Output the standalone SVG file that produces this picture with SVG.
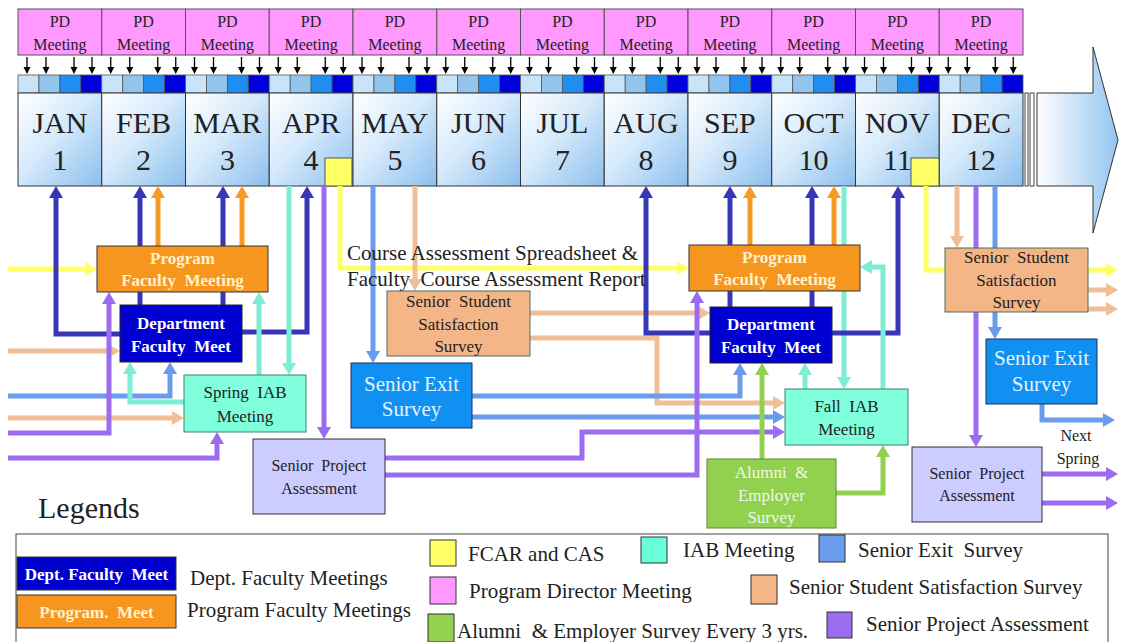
<svg xmlns="http://www.w3.org/2000/svg" width="1121" height="642" viewBox="0 0 1121 642">
<style>
.f{font-family:'Liberation Serif','Times New Roman',serif;white-space:pre}
.m{text-anchor:middle}
.pd{fill:#ff99ff;stroke:#555;stroke-width:1}
.mo{fill:url(#mg);stroke:#333;stroke-width:1}
.c{fill:none;stroke-width:5}
.db{stroke:#3636b6;marker-end:url(#a-db)}
.or{stroke:#f59a23;marker-end:url(#a-or)}
.mi{stroke:#7eeed2;marker-end:url(#a-mi)}
.ye{stroke:#ffff66;marker-end:url(#a-ye)}
.cb{stroke:#6b9bed;marker-end:url(#a-cb)}
.ta{stroke:#f0bf98;marker-end:url(#a-ta)}
.pu{stroke:#9b6cf0;marker-end:url(#a-pu)}
.gr{stroke:#92d050;marker-end:url(#a-gr)}
.pfm{fill:#f7961e;stroke:#333;stroke-width:1}
.dfm{fill:#0000d0;stroke:#222;stroke-width:1}
.iab{fill:#80ffdc;stroke:#3c8070;stroke-width:1}
.sss{fill:#f4b587;stroke:#4a7060;stroke-width:1}
.sex{fill:#1090f0;stroke:#1a3060;stroke-width:1}
.spa{fill:#ccccff;stroke:#333;stroke-width:1}
.alu{fill:#92d050;stroke:#5a8a3a;stroke-width:1}
.sw{stroke:#333;stroke-width:1}
.bw{font-weight:bold;font-size:17px}
.lg{font-size:21px;fill:#222}
</style>
<defs>
<linearGradient id="mg" x1="0" y1="0" x2="1" y2="1">
<stop offset="0" stop-color="#ffffff"/><stop offset="0.45" stop-color="#d6eafb"/><stop offset="1" stop-color="#8cbfee"/>
</linearGradient>
<linearGradient id="ag" x1="0" y1="0" x2="1" y2="0">
<stop offset="0" stop-color="#ffffff"/><stop offset="1" stop-color="#94c4f0"/>
</linearGradient>
<marker id="a-db" markerUnits="userSpaceOnUse" markerWidth="12" markerHeight="14" refX="0" refY="7" orient="auto" viewBox="0 0 12 14"><path d="M0,0L12,7L0,14z" fill="#3636b6"/></marker>
<marker id="a-or" markerUnits="userSpaceOnUse" markerWidth="12" markerHeight="14" refX="0" refY="7" orient="auto" viewBox="0 0 12 14"><path d="M0,0L12,7L0,14z" fill="#f59a23"/></marker>
<marker id="a-mi" markerUnits="userSpaceOnUse" markerWidth="12" markerHeight="14" refX="0" refY="7" orient="auto" viewBox="0 0 12 14"><path d="M0,0L12,7L0,14z" fill="#7eeed2"/></marker>
<marker id="a-ye" markerUnits="userSpaceOnUse" markerWidth="12" markerHeight="14" refX="0" refY="7" orient="auto" viewBox="0 0 12 14"><path d="M0,0L12,7L0,14z" fill="#ffff66"/></marker>
<marker id="a-cb" markerUnits="userSpaceOnUse" markerWidth="12" markerHeight="14" refX="0" refY="7" orient="auto" viewBox="0 0 12 14"><path d="M0,0L12,7L0,14z" fill="#6b9bed"/></marker>
<marker id="a-ta" markerUnits="userSpaceOnUse" markerWidth="12" markerHeight="14" refX="0" refY="7" orient="auto" viewBox="0 0 12 14"><path d="M0,0L12,7L0,14z" fill="#f0bf98"/></marker>
<marker id="a-pu" markerUnits="userSpaceOnUse" markerWidth="12" markerHeight="14" refX="0" refY="7" orient="auto" viewBox="0 0 12 14"><path d="M0,0L12,7L0,14z" fill="#9b6cf0"/></marker>
<marker id="a-gr" markerUnits="userSpaceOnUse" markerWidth="12" markerHeight="14" refX="0" refY="7" orient="auto" viewBox="0 0 12 14"><path d="M0,0L12,7L0,14z" fill="#92d050"/></marker>
<g id="pdArr" stroke="#000" stroke-width="1.3" fill="#000">
<path d="M9,57V67M28,57V67M56,57V67M74,57V67"/>
<path stroke="none" d="M5.5,67H12.5L9,74zM24.5,67H31.5L28,74zM52.5,67H59.5L56,74zM70.5,67H77.5L74,74z"/>
</g>
<g id="sq4" stroke="#555" stroke-width="0.8">
<rect x="0" y="75" width="20.94" height="18" fill="#c8e4f9"/>
<rect x="20.94" y="75" width="20.94" height="18" fill="#92c5ee"/>
<rect x="41.88" y="75" width="20.94" height="18" fill="#1f8ef0"/>
<rect x="62.81" y="75" width="20.94" height="18" fill="#0000dc"/>
</g>
</defs>
<rect width="1121" height="642" fill="#fff"/>

<g id="timeline">
<g id="pd-meetings" class="f">
<rect class="pd" x="18" y="9" width="83.75" height="46"/><rect class="pd" x="101.75" y="9" width="83.75" height="46"/><rect class="pd" x="185.5" y="9" width="83.75" height="46"/><rect class="pd" x="269.25" y="9" width="83.75" height="46"/><rect class="pd" x="353" y="9" width="83.75" height="46"/><rect class="pd" x="436.75" y="9" width="83.75" height="46"/><rect class="pd" x="520.5" y="9" width="83.75" height="46"/><rect class="pd" x="604.25" y="9" width="83.75" height="46"/><rect class="pd" x="688" y="9" width="83.75" height="46"/><rect class="pd" x="771.75" y="9" width="83.75" height="46"/><rect class="pd" x="855.5" y="9" width="83.75" height="46"/><rect class="pd" x="939.25" y="9" width="83.75" height="46"/>
<g class="m" font-size="16" fill="#222">
<text x="59.9" y="27">PD</text><text x="59.9" y="50">Meeting</text>
<text x="143.6" y="27">PD</text><text x="143.6" y="50">Meeting</text>
<text x="227.4" y="27">PD</text><text x="227.4" y="50">Meeting</text>
<text x="311.1" y="27">PD</text><text x="311.1" y="50">Meeting</text>
<text x="394.9" y="27">PD</text><text x="394.9" y="50">Meeting</text>
<text x="478.6" y="27">PD</text><text x="478.6" y="50">Meeting</text>
<text x="562.4" y="27">PD</text><text x="562.4" y="50">Meeting</text>
<text x="646.1" y="27">PD</text><text x="646.1" y="50">Meeting</text>
<text x="729.9" y="27">PD</text><text x="729.9" y="50">Meeting</text>
<text x="813.6" y="27">PD</text><text x="813.6" y="50">Meeting</text>
<text x="897.4" y="27">PD</text><text x="897.4" y="50">Meeting</text>
<text x="981.1" y="27">PD</text><text x="981.1" y="50">Meeting</text>
</g>
</g>
<g id="pd-arrows">
<use href="#pdArr" x="18"/><use href="#pdArr" x="101.75"/><use href="#pdArr" x="185.5"/><use href="#pdArr" x="269.25"/><use href="#pdArr" x="353"/><use href="#pdArr" x="436.75"/><use href="#pdArr" x="520.5"/><use href="#pdArr" x="604.25"/><use href="#pdArr" x="688"/><use href="#pdArr" x="771.75"/><use href="#pdArr" x="855.5"/><use href="#pdArr" x="939.25"/>
</g>
<g id="weeks">
<use href="#sq4" x="18"/><use href="#sq4" x="101.75"/><use href="#sq4" x="185.5"/><use href="#sq4" x="269.25"/><use href="#sq4" x="353"/><use href="#sq4" x="436.75"/><use href="#sq4" x="520.5"/><use href="#sq4" x="604.25"/><use href="#sq4" x="688"/><use href="#sq4" x="771.75"/><use href="#sq4" x="855.5"/><use href="#sq4" x="939.25"/>
</g>
<g id="months">
<rect class="mo" x="18" y="93" width="83.75" height="93"/><rect class="mo" x="101.75" y="93" width="83.75" height="93"/><rect class="mo" x="185.5" y="93" width="83.75" height="93"/><rect class="mo" x="269.25" y="93" width="83.75" height="93"/><rect class="mo" x="353" y="93" width="83.75" height="93"/><rect class="mo" x="436.75" y="93" width="83.75" height="93"/><rect class="mo" x="520.5" y="93" width="83.75" height="93"/><rect class="mo" x="604.25" y="93" width="83.75" height="93"/><rect class="mo" x="688" y="93" width="83.75" height="93"/><rect class="mo" x="771.75" y="93" width="83.75" height="93"/><rect class="mo" x="855.5" y="93" width="83.75" height="93"/><rect class="mo" x="939.25" y="93" width="83.75" height="93"/>
<rect x="1025" y="93" width="3" height="93" fill="#fff" stroke="#444" stroke-width="1"/>
<rect x="1030" y="93" width="4" height="93" fill="#fff" stroke="#444" stroke-width="1"/>
<path d="M1037,93H1093V47L1118,140L1093,233V186H1037Z" fill="url(#ag)" stroke="#333" stroke-width="1"/>
<g class="f m" font-size="30" fill="#222">
<text x="59.9" y="133">JAN</text><text x="59.9" y="170">1</text>
<text x="143.6" y="133">FEB</text><text x="143.6" y="170">2</text>
<text x="227.4" y="133">MAR</text><text x="227.4" y="170">3</text>
<text x="311.1" y="133">APR</text><text x="311.1" y="170">4</text>
<text x="394.9" y="133">MAY</text><text x="394.9" y="170">5</text>
<text x="478.6" y="133">JUN</text><text x="478.6" y="170">6</text>
<text x="562.4" y="133">JUL</text><text x="562.4" y="170">7</text>
<text x="646.1" y="133">AUG</text><text x="646.1" y="170">8</text>
<text x="729.9" y="133">SEP</text><text x="729.9" y="170">9</text>
<text x="813.6" y="133">OCT</text><text x="813.6" y="170">10</text>
<text x="897.4" y="133">NOV</text><text x="897.4" y="170">11</text>
<text x="981.1" y="133">DEC</text><text x="981.1" y="170">12</text>
</g>
<rect x="325" y="158" width="27" height="28" fill="#ffff66" stroke="#555" stroke-width="1"/>
<rect x="911" y="158" width="28" height="28" fill="#ffff66" stroke="#555" stroke-width="1"/>
</g>
</g>

<g id="connectors" class="c">
<path class="ye" d="M8,269H85"/>
<path class="db" d="M120,334H56V198"/>
<path class="db" d="M140,305V198"/>
<path class="or" d="M158,246V198"/>
<path class="db" d="M223,305V198"/>
<path class="or" d="M242,246V198"/>
<path class="db" d="M242,332H307V198"/>
<path class="mi" d="M289,186V363"/>
<path class="pu" d="M324,186V427"/>
<path class="ye" d="M340,186V268H677"/>
<path class="cb" d="M373,186V351"/>
<path class="ta" d="M415,186V279"/>
<path class="ta" d="M8,351H108"/>
<path class="cb" d="M8,396H170V374"/>
<path class="mi" d="M184,402H130V374"/>
<path class="ta" d="M8,418H172"/>
<path class="pu" d="M8,433H109V304"/>
<path class="pu" d="M8,458H217V444"/>
<path class="mi" d="M259,375V304"/>
<path class="ta" d="M530,313H698"/>
<path class="ta" d="M530,338H657V403H773"/>
<path class="db" d="M710,333H646V198"/>
<path class="cb" d="M472,396H740V375"/>
<path class="cb" d="M472,417H773"/>
<path class="pu" d="M385,458H582V432H773"/>
<path class="pu" d="M385,475H697V303"/>
<path class="db" d="M730,307V198"/>
<path class="or" d="M750,245V198"/>
<path class="db" d="M812,307V198"/>
<path class="or" d="M834,245V198"/>
<path class="mi" d="M844,186V377"/>
<path class="db" d="M832,333H898V198"/>
<path class="mi" d="M883,389V267H872"/>
<path class="mi" d="M805,389V375"/>
<path class="gr" d="M762,459V375"/>
<path class="gr" d="M836,493H883V457"/>
<path class="ye" d="M926,186V270H1106"/>
<path class="ta" d="M957,186V236"/>
<path class="pu" d="M976,186V435"/>
<path class="cb" d="M995,186V327"/>
<path class="ta" d="M1088,290H1106"/>
<path class="ta" d="M1088,309H1106"/>
<path class="cb" d="M1042,404V420H1103"/>
<path class="pu" d="M1042,474H1106"/>
<path class="pu" d="M1042,503H1106"/>
</g>

<text class="f" x="347" y="260" font-size="21" fill="#222">Course Assessment Spreadsheet &amp;</text>
<text class="f" x="347" y="286" font-size="21" fill="#222">Faculty  Course Assessment Report</text>

<g id="pfm-spring">
<rect class="pfm" x="97" y="246" width="171" height="46"/>
<text class="f m bw" x="182.5" y="264" fill="#fff2cc">Program</text>
<text class="f m bw" x="182.5" y="286" fill="#fff2cc">Faculty  Meeting</text>
</g>
<g id="dfm-spring">
<rect class="dfm" x="120" y="305" width="122" height="57"/>
<text class="f m bw" x="181" y="329" fill="#fff">Department</text>
<text class="f m bw" x="181" y="352" fill="#fff">Faculty  Meet</text>
</g>
<g id="spring-iab">
<rect class="iab" x="184" y="375" width="122" height="57"/>
<text class="f m" x="245" y="398" font-size="17" fill="#222">Spring  IAB</text>
<text class="f m" x="245" y="422" font-size="17" fill="#222">Meeting</text>
</g>
<g id="spa-spring">
<rect class="spa" x="253" y="439" width="132" height="75"/>
<text class="f m" x="319" y="471" font-size="16" fill="#222">Senior  Project</text>
<text class="f m" x="319" y="494" font-size="16" fill="#222">Assessment</text>
</g>
<g id="sss-spring">
<rect class="sss" x="387" y="291" width="143" height="65"/>
<text class="f m" x="458.5" y="307" font-size="17" fill="#222">Senior  Student</text>
<text class="f m" x="458.5" y="330" font-size="17" fill="#222">Satisfaction</text>
<text class="f m" x="458.5" y="352" font-size="17" fill="#222">Survey</text>
</g>
<g id="exit-spring">
<rect class="sex" x="351" y="363" width="121" height="65"/>
<text class="f m" x="411.5" y="391" font-size="21" fill="#e6f2ff">Senior Exit</text>
<text class="f m" x="411.5" y="416" font-size="21" fill="#e6f2ff">Survey</text>
</g>
<g id="pfm-fall">
<rect class="pfm" x="689" y="245" width="171" height="46"/>
<text class="f m bw" x="774.5" y="263" fill="#fff2cc">Program</text>
<text class="f m bw" x="774.5" y="285" fill="#fff2cc">Faculty  Meeting</text>
</g>
<g id="dfm-fall">
<rect class="dfm" x="710" y="307" width="122" height="56"/>
<text class="f m bw" x="771" y="330" fill="#fff">Department</text>
<text class="f m bw" x="771" y="353" fill="#fff">Faculty  Meet</text>
</g>
<g id="fall-iab">
<rect class="iab" x="785" y="389" width="123" height="56"/>
<text class="f m" x="846.5" y="412" font-size="17" fill="#222">Fall  IAB</text>
<text class="f m" x="846.5" y="435" font-size="17" fill="#222">Meeting</text>
</g>
<g id="alumni">
<rect class="alu" x="707" y="459" width="129" height="69"/>
<text class="f m" x="771.5" y="478" font-size="17" fill="#f0f8e6">Alumni  &amp;</text>
<text class="f m" x="771.5" y="501" font-size="17" fill="#f0f8e6">Employer</text>
<text class="f m" x="771.5" y="523" font-size="17" fill="#f0f8e6">Survey</text>
</g>
<g id="sss-fall">
<rect class="sss" x="945" y="248" width="143" height="64"/>
<text class="f m" x="1016.5" y="263" font-size="17" fill="#222">Senior  Student</text>
<text class="f m" x="1016.5" y="286" font-size="17" fill="#222">Satisfaction</text>
<text class="f m" x="1016.5" y="308" font-size="17" fill="#222">Survey</text>
</g>
<g id="exit-fall">
<rect class="sex" x="986" y="339" width="111" height="65"/>
<text class="f m" x="1041.5" y="365" font-size="21" fill="#e6f2ff">Senior Exit</text>
<text class="f m" x="1041.5" y="391" font-size="21" fill="#e6f2ff">Survey</text>
</g>
<g id="spa-fall">
<rect class="spa" x="912" y="447" width="130" height="75"/>
<text class="f m" x="977" y="479" font-size="16" fill="#222">Senior  Project</text>
<text class="f m" x="977" y="501" font-size="16" fill="#222">Assessment</text>
</g>
<text class="f m" x="1076" y="441" font-size="16" fill="#222">Next</text>
<text class="f m" x="1078" y="464" font-size="16" fill="#222">Spring</text>

<g id="legend">
<text class="f" x="38" y="518" font-size="30" fill="#222">Legends</text>
<rect x="16" y="534" width="1092" height="112" fill="#fff" stroke="#444" stroke-width="1"/>
<rect x="17" y="557" width="159" height="33" fill="#0000cc" stroke="#333" stroke-width="1"/>
<text class="f m" x="96.5" y="580" font-size="17" font-weight="bold" fill="#fff">Dept. Faculty  Meet</text>
<rect x="17" y="595" width="159" height="33" fill="#f7961e" stroke="#333" stroke-width="1"/>
<text class="f m" x="96.5" y="618" font-size="17" font-weight="bold" fill="#fff2cc">Program.  Meet</text>
<text class="f lg" x="190" y="585">Dept. Faculty Meetings</text>
<text class="f lg" x="187" y="617">Program Faculty Meetings</text>
<rect class="sw" x="430" y="540" width="26" height="26" fill="#ffff66"/>
<text class="f lg" x="468" y="561">FCAR and CAS</text>
<rect class="sw" x="641" y="537" width="26" height="26" fill="#66ffd9"/>
<text class="f lg" x="683" y="557">IAB Meeting</text>
<rect class="sw" x="819" y="535" width="26" height="27" fill="#6b9bed"/>
<text class="f lg" x="858" y="557">Senior Exit  Survey</text>
<rect class="sw" x="430" y="577" width="26" height="27" fill="#ff99ff"/>
<text class="f lg" x="469" y="598">Program Director Meeting</text>
<rect class="sw" x="751" y="575" width="26" height="29" fill="#f4b587"/>
<text class="f lg" x="789" y="594">Senior Student Satisfaction Survey</text>
<rect class="sw" x="428" y="614" width="26" height="28" fill="#92d050"/>
<text class="f lg" x="457" y="638">Alumni  &amp; Employer Survey Every 3 yrs.</text>
<rect class="sw" x="827" y="612" width="25" height="26" fill="#9b6cf0"/>
<text class="f lg" x="866" y="631">Senior Project Assessment</text>
</g>
</svg>
